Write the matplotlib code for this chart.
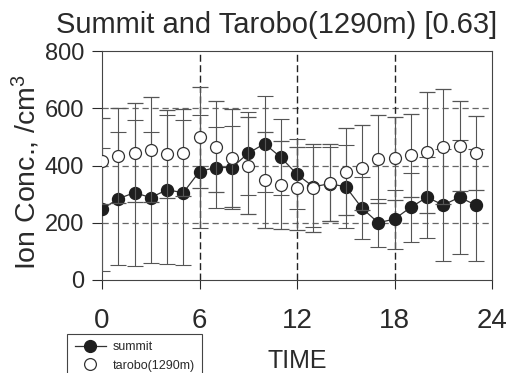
import matplotlib
matplotlib.use("Agg")
import matplotlib.pyplot as plt
from matplotlib.lines import Line2D

plt.rcParams['font.family'] = ['Liberation Sans', 'DejaVu Sans']
plt.rcParams['mathtext.fontset'] = 'custom'
plt.rcParams['mathtext.rm'] = 'Liberation Sans'
plt.rcParams['mathtext.it'] = 'Liberation Sans'

hours = list(range(24))
summit = [247, 284, 305, 288, 315, 305, 379, 393, 393, 443, 476, 429,
          369, 326, 336, 326, 251, 200, 213, 254, 289, 262, 289, 262]
summit_sd = [215, 232, 255, 230, 260, 253, 197, 142, 145, 145, 168, 133,
             122, 140, 130, 145, 108, 84, 103, 120, 141, 196, 199, 196]
tarobo = [417, 434, 445, 455, 440, 445, 498, 466, 425, 400, 350, 331,
          320, 320, 340, 379, 393, 423, 425, 435, 446, 466, 468, 445]
tarobo_sd = [150, 166, 174, 183, 154, 151, 175, 160, 171, 170, 167, 153,
             146, 154, 134, 153, 148, 153, 145, 144, 212, 200, 158, 129]
xticks = [0, 6, 12, 18, 24]
yticks = [0, 200, 400, 600, 800]

W, H = 509, 373
fig = plt.figure(figsize=(W / 100, H / 100), dpi=100)
ax = fig.add_axes([102 / W, 1 - 280 / H, 390 / W, 229 / H])

ink = '#2a2a2a'
ecol = '#555555'

for yv in [200, 400, 600]:
    ax.axhline(yv, color='#666666', lw=0.9, ls=(0, (5, 3)), zorder=0)
for xv in [6, 12, 18]:
    ax.axvline(xv, color='#222222', lw=1.0, ls=(0, (5, 2.5)), zorder=0)

ax.errorbar(hours, summit, yerr=summit_sd, fmt='o-', color='#333333',
            mfc='#1e1e1e', mec='#1e1e1e', ms=8.6, lw=0.9,
            ecolor=ecol, elinewidth=0.8, capsize=5.5, capthick=0.8, zorder=3)
ax.errorbar(hours, tarobo, yerr=tarobo_sd, fmt='o', color='#333333',
            mfc='white', mec='#333333', mew=0.9, ms=8.6,
            ecolor=ecol, elinewidth=0.8, capsize=5.5, capthick=0.8, zorder=4)

ax.set_xlim(0, 24)
ax.set_ylim(0, 800)
ax.set_xticks(xticks)
ax.set_yticks(yticks)
ax.tick_params(axis='x', direction='out', length=6.5, width=0.8, color=ink,
               labelsize=20, pad=14, labelcolor=ink)
ax.tick_params(axis='y', direction='out', length=7, width=0.8, color=ink,
               labelsize=17, pad=6, labelcolor=ink)
for s in ax.spines.values():
    s.set_linewidth(0.8)
    s.set_color('#444444')
for lab in ax.get_xticklabels() + ax.get_yticklabels():
    lab.set_clip_on(False)

fig.text(277 / W, 1 - 33 / H, 'Summit and Tarobo(1290m) [0.63]', ha='center',
         va='baseline', fontsize=21, color=ink)
fig.text(297 / W, 1 - 372.5 / H, 'TIME', ha='center', va='bottom',
         fontsize=18, color=ink)
fig.text(26 / W, 1 - 172 / H, r'Ion Conc., /cm$^3$', rotation=90,
         ha='center', va='center', fontsize=20.5, color=ink)

handles = [
    Line2D([], [], color='#333333', lw=0.9, marker='o', mfc='#1e1e1e',
           mec='#1e1e1e', ms=8.5),
    Line2D([], [], color='none', marker='o', mfc='white', mec='#333333',
           mew=0.9, ms=8.5),
]
leg = fig.legend(handles, ['summit', 'tarobo(1290m)'], loc='upper left',
                 bbox_to_anchor=(67 / W, 1 - 334 / H),
                 bbox_transform=fig.transFigure, borderaxespad=0,
                 fontsize=9, handlelength=2.5, handletextpad=0.55,
                 labelspacing=0.5, borderpad=0.6, fancybox=False,
                 framealpha=1, edgecolor='#444444')
leg.get_frame().set_linewidth(0.8)
for t in leg.get_texts():
    t.set_color(ink)

fig.savefig('out.png', dpi=100)
